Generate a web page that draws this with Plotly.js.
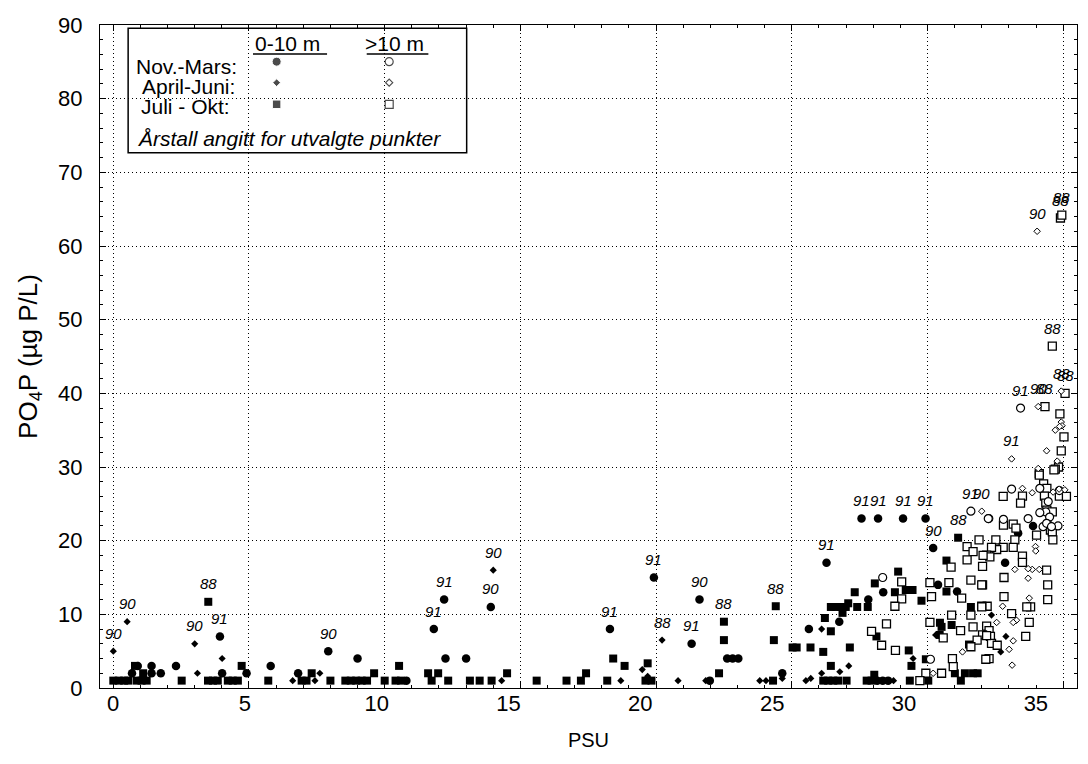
<!DOCTYPE html>
<html>
<head>
<meta charset="utf-8">
<script src="https://cdn.plot.ly/plotly-3.0.1.min.js"></script>
<style>html,body{margin:0;padding:0;background:#fff;}#chart{width:1088px;height:764px;}</style>
</head>
<body>
<div id="chart"></div>
<script>
// Nov.-Mars, 0-10 m (filled circle)
const novMarsSurfX = [0.69,0.9,1.41,1.41,1.75,2.31,3.93,4.01,4.91,5.8,6.81,7.92,9.0,10.8,11.81,12.19,12.24,13.0,13.91,18.3,19.92,21.6,21.31,21.98,22.62,22.82,23.03,24.65,26.28,25.63,26.75,28.15,28.35,28.55,27.82,28.37,27.57,28.18,29.1,29.93,30.21,30.39,31.09,33.34,33.89,32.86];
const novMarsSurfY = [2,3,3,2,2,3,7,2,2,3,2,5,4,1,8,12,4,4,11,8,15,12,6,1,4,4,4,2,17,8,9,1,1,1,12,13,23,23,23,23,19,14,13.1,21,22,17];
// April-Juni, 0-10 m (filled diamond)
const aprJunSurfX = [0.0,0.51,3.0,3.1,4.01,6.61,7.43,7.61,14.0,14.31,18.7,19.49,19.69,20.22,20.81,21.83,23.82,24.05,24.65,25.52,25.7,26.1,26.1,26.77,27.1,28.75,30.3,29.47,32.36,32.89,32.7];
const aprJunSurfY = [5,9,6,2,4,1,1,2,16,1,1,2.5,1.6,6.5,1,1,1,1,1.3,1,1.3,8,2,2.2,3,1,7.2,4,9.9,7,4.9];
// Juli-Okt, 0-10 m (filled square)
const julOktSurfX = [0.0,0.2,0.4,0.55,0.8,1.1,0.86,1.04,1.23,2.52,3.5,3.49,3.67,3.85,4.22,4.4,4.59,4.73,5.71,6.94,7.12,7.31,8.0,8.55,8.75,8.95,9.15,9.35,9.61,10.0,10.4,10.6,10.53,11.6,11.97,11.73,12.34,13.14,13.5,13.94,14.51,15.6,16.7,17.23,17.42,18.2,18.42,18.84,19.69,19.61,19.83,22.32,22.5,22.5,24.31,24.34,24.41,
  25.03,25.18,26.44,26.22,25.69,26.16,27.14,26.44,26.16,26.34,26.53,26.71,27.02,27.76,27.94,28.04,26.44,26.62,26.81,26.99,26.87,27.08,27.41,27.8,27.32,28.06,28.8,28.92,28.12,
  31.13,30.7,30.7,29.78,29.2,29.45,31.6,30.46,30.52,30.89,30.45,31.53,29.31,29.41,29.94,31.01,31.38,31.68,31.85,31.23,29.35,30.03];
const julOktSurfY = [1,1,1,1,3,2,1,1,1,1,11.7,1,1,1,1,1,1,3,1,1,1,2,1,1,1,1,1,1,2,1,1,1,3,2,2,1,1,1,1,1,2,1,1,1,2,1,4,3,3.35,1,1,2,9,6.5,1,6.5,11.1,
  5.5,5.5,7.7,9.5,5.5,4.9,5.5,3,1,1,1,1,1,1,1,1.8,11,11,11,11,10.2,11.5,11,11,13,14.2,13,15.8,7,
  20.4,17.3,13.1,11.85,13.3,13.3,11,8.86,8.3,8.55,7.2,5.9,5.1,3,3.9,2,2,2,2,1,1,1];
// Nov.-Mars, >10 m (open circle)
const novMarsDeepX = [28.35,30.11,31.6,32.26,33.1,34.14,34.45,34.36,34.5,34.81,32.24,32.8,33.71,34.45,34.86,33.43,34.26,34.39,34.57,34.14];
const novMarsDeepY = [15,3.9,24,23,27,27.1,25.3,23.9,23.2,22,23,22.9,23,22.2,26.8,38,21.9,22.35,21.9,23.8];
// April-Juni, >10 m (open diamond)
const aprJunDeepX = [34.04,34.08,34.93,34.93,34.96,34.87,34.71,34.39,33.1,34.78,34.08,32.0,33.5,33.86,34.63,34.85,35.06,33.22,33.98,33.99,33.86,34.12,33.71,33.75,32.77,33.28,33.16,32.55,33.16,33.01,33.12,31.29,30.21,33.71];
const aprJunDeepY = [62,38.2,40.3,36.1,35.6,35.5,35.0,32.2,31.1,30.8,29.8,24,27.1,26.5,26.6,27.0,26.9,16.1,19.2,18.6,16.1,16.1,14.9,12.2,11.1,9.2,8.9,8.9,6.4,5.25,3.1,4.9,2,16.2];
// Juli-Okt, >10 m (open square)
const julOktDeepX = [34.9,34.95,34.6,35.07,34.33,34.88,35.03,34.93,34.83,34.71,34.12,34.66,32.79,33.5,33.43,34.12,34.28,34.4,34.31,34.86,34.36,34.4,34.6,35.12,34.53,34.6,34.62,32.8,33.16,33.26,34.02,33.22,32.52,32.79,32.55,32.36,33.16,32.18,32.3,33.5,33.5,34.39,32.82,34.43,32.03,32.82,33.8,33.66,34.43,32.2,32.0,33.1,33.75,32.18,32.27,32.32,33.62,32.36,32.57,32.27,
  31.46,31.9,31.68,31.46,32.05,32.03,30.87,31.6,32.0,30.09,30.79,31.26,30.15,29.05,28.8,31.6,32.0,30.89,30.09,31.22,30.58,31.68,32.03,31.83,32.18,30.92,32.15,29.94,30.52,30.95,29.72,31.6,29.05,
  27.94,28.31,28.49,28.82];
const julOktDeepY = [63.8,64.2,46.4,40,38.2,37.2,34.1,32.2,30,29.7,29.1,29.6,26,26.05,25.1,28.9,27.7,27.1,26.05,26.05,25.1,24.15,23.9,26,21.45,21.2,20.1,22.1,22.25,21.7,20.76,20.1,20.1,19.1,18.8,19.1,19.1,18.05,17.8,17.9,17.05,16,15,14,14,12.4,11,11,12,11.1,11.1,10.1,8.9,8.4,7.8,7,7,6.06,5.8,4,
  19.2,20.1,18.5,17.4,18,16.5,16.4,14.65,14,14.3,14.3,12.2,12.4,12.1,11.1,9.9,11,9.9,8.9,7.8,6.8,8.3,7.2,6.5,7.1,4,3.9,2,2,2.9,1,5.6,14.4,
  7.7,5.8,8.7,5.1];
// Year labels for selected points
const labelX = [0.0,0.51,3.0,3.5,3.93,7.92,11.81,12.19,13.91,14.0,18.3,19.92,20.22,21.31,21.6,22.5,24.41,26.28,27.57,28.18,29.1,29.93,30.21,31.13,31.6,32.0,33.1,33.43,34.08,34.33,34.6,34.93,35.07,34.04,34.9,34.95];
const labelY = [5,9,6,11.7,7,5,8,12,11,16,8,15,6.5,6,12,9,11.1,17,23,23,23,23,19,20.4,24,24,31.1,38,38.2,38.2,46.4,40.3,40,62,63.8,64.2];
const labelText = ['90','90','90','88','91','90','91','91','90','90','91','91','88','91','90','88','88','91','91','91','91','91','90','88','91','90','91','91','90','88','88','88','88','90','88','88'];
// Axis tick values
const xTickVals = [0,5,10,15,20,25,30,35];
const yTickVals = [0,10,20,30,40,50,60,70,80,90];

const FONT = 'Liberation Sans, Arial, Helvetica, sans-serif';
const traces = [
  {x: julOktSurfX, y: julOktSurfY, mode:'markers', type:'scatter', marker:{symbol:'square', size:8, color:'black'}},
  {x: novMarsSurfX, y: novMarsSurfY, mode:'markers', type:'scatter', marker:{symbol:'circle', size:8.5, color:'black'}},
  {x: aprJunSurfX, y: aprJunSurfY, mode:'markers', type:'scatter', marker:{symbol:'diamond', size:5.5, color:'black'}},
  {x: julOktDeepX, y: julOktDeepY, mode:'markers', type:'scatter', marker:{symbol:'square', size:8, color:'white', line:{color:'black', width:1.3}}},
  {x: novMarsDeepX, y: novMarsDeepY, mode:'markers', type:'scatter', marker:{symbol:'circle', size:8, color:'white', line:{color:'black', width:1.2}}},
  {x: aprJunDeepX, y: aprJunDeepY, mode:'markers', type:'scatter', marker:{symbol:'diamond', size:5, color:'white', line:{color:'black', width:1}}},
  // legend symbols on an overlay axis in [0,1] units
  {x:[0.1808,0.1808,0.1808], y:[0.9447,0.913,0.8804], xaxis:'x2', yaxis:'y2', mode:'markers', type:'scatter', hoverinfo:'skip',
   marker:{symbol:['circle','diamond','square'], size:[9,6,8.5], color:'black'}},
  {x:[0.296,0.296,0.296], y:[0.9447,0.913,0.8804], xaxis:'x2', yaxis:'y2', mode:'markers', type:'scatter', hoverinfo:'skip',
   marker:{symbol:['circle','diamond','square'], size:[8,5.5,8], color:'white', line:{color:'black', width:1.2}}},
  // invisible carrier trace for the tick-label axis
  {x:[0,35], y:[0,0], xaxis:'x3', yaxis:'y', mode:'markers', type:'scatter', hoverinfo:'skip', marker:{opacity:0}}
];

const annotations = labelX.map((x,i)=>({x:x, y:labelY[i], xref:'x', yref:'y', text:labelText[i], showarrow:false,
  yshift:18, font:{family:FONT, size:15, color:'black', style:'italic'}}));

const lg = [
  {x:0.1923, y:0.9718, text:'0-10 m', xanchor:'center'},
  {x:0.3018, y:0.9718, text:'>10 m', xanchor:'center'},
  {x:0.1424, y:0.9377, text:'Nov.-Mars:', xanchor:'right'},
  {x:0.1407, y:0.9065, text:'April-Juni:', xanchor:'right'},
  {x:0.1356, y:0.8774, text:'Juli - Okt:', xanchor:'right'}
];
lg.forEach(a=>annotations.push({x:a.x, y:a.y, xref:'paper', yref:'paper', text:a.text, xanchor:a.xanchor, yanchor:'middle',
  showarrow:false, font:{family:FONT, size:21, color:'black'}}));
annotations.push({x:0.036, y:0.8291, xref:'paper', yref:'paper', text:'Årstall angitt for utvalgte punkter', xanchor:'left', yanchor:'middle',
  showarrow:false, font:{family:FONT, size:21, color:'black', style:'italic'}});

const shapes = [
  {type:'rect', xref:'paper', yref:'paper', x0:0.0288, x1:0.3753, y0:0.8074, y1:0.995, line:{color:'black', width:1.5}, fillcolor:'white', layer:'below'},
  {type:'line', xref:'paper', yref:'paper', x0:0.1566, x1:0.2324, y0:0.9563, y1:0.9563, line:{color:'black', width:1.5}},
  {type:'line', xref:'paper', yref:'paper', x0:0.2730, x1:0.3361, y0:0.9563, y1:0.9563, line:{color:'black', width:1.5}}
];

const axisCommon = {
  ticks:'inside', ticklen:6, tickwidth:1, tickcolor:'black',
  showline:true, linecolor:'black', linewidth:1, mirror:'ticks',
  showgrid:true, gridcolor:'black', gridwidth:1, griddash:'1px,3px',
  zeroline:false, tickfont:{family:FONT, size:22, color:'black'}
};

const layout = {
  width:1088, height:764,
  margin:{l:100, r:11, t:25, b:76},
  paper_bgcolor:'white', plot_bgcolor:'white',
  showlegend:false,
  font:{family:FONT, color:'black'},
  xaxis: Object.assign({}, axisCommon, {
    range:[-0.49, 35.51], tickvals:xTickVals, showticklabels:false,
    minor:{dtick:1, ticks:'inside', ticklen:3, tickcolor:'black', showgrid:false}
  }),
  // tick labels of the PSU axis, as drawn in the source figure (slightly tighter spacing than the grid)
  xaxis3:{overlaying:'x', anchor:'y', side:'bottom', range:[-0.493, 36.56], tickvals:xTickVals,
    ticks:'', showline:false, showgrid:false, zeroline:false, tickfont:{family:FONT, size:22, color:'black'},
    title:{text:'PSU', font:{family:FONT, size:20, color:'black'}, standoff:17}},
  yaxis: Object.assign({}, axisCommon, {
    range:[0, 90], tickvals:yTickVals,
    minor:{dtick:2, ticks:'inside', ticklen:3, tickcolor:'black', showgrid:false},
    ticklabelstandoff:12,
    title:{text:'PO<sub>4</sub>P (µg P/L)', font:{family:FONT, size:26, color:'black'}, standoff:13}
  }),
  xaxis2:{overlaying:'x', range:[0,1], visible:false, fixedrange:true},
  yaxis2:{overlaying:'y', range:[0,1], visible:false, fixedrange:true},
  annotations: annotations,
  shapes: shapes
};

Plotly.newPlot('chart', traces, layout, {displayModeBar:false, staticPlot:true});
</script>
</body>
</html>
